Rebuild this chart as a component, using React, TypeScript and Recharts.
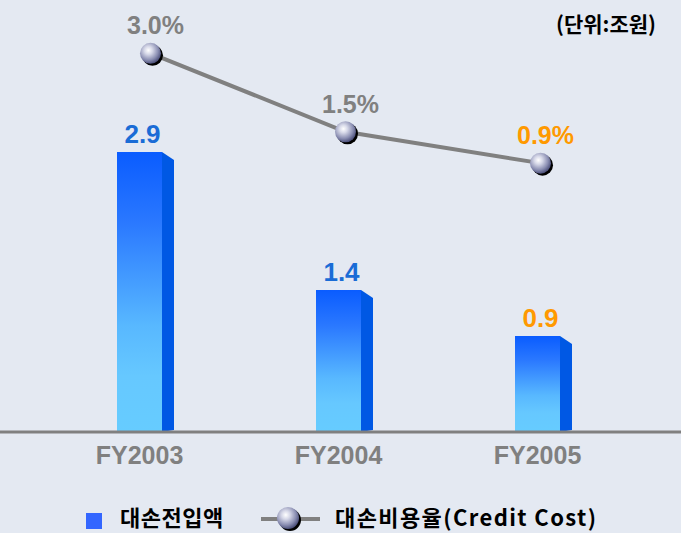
import React from 'react';
import { ComposedChart, Bar, Line, XAxis, YAxis, Legend, LabelList } from 'recharts';

const categories = ['FY2003', 'FY2004', 'FY2005'];
const provisions = [2.9, 1.4, 0.9]; // 대손전입액 (조원)
const creditCost = [3.0, 1.5, 0.9]; // 대손비용율 (%)
const barName = '대손전입액';
const lineName = '대손비용율(Credit Cost)';
const unitLabel = '(단위:조원)';

const data = categories.map((c, i) => ({ name: c, provision: provisions[i], cost: creditCost[i] }));

const LATIN = '"Liberation Sans", Arial, "Noto Sans CJK KR", sans-serif';
const KOR = '"Noto Sans CJK KR", "Liberation Sans", sans-serif';
const BLUE_LABEL = '#1A6CD6';
const ORANGE = '#FF9900';
const GRAY = '#808080';

const BarShape = (props: any) => {
  const { x, y, width, height, background, index } = props;
  const bottom = background && background.height ? background.y + background.height : y + height;
  const side = 12;
  const gid = `barGrad${index}`;
  return (
    <g>
      <defs>
        <linearGradient id={gid} x1="0" y1="0" x2="0" y2="1">
          <stop offset="0%" stopColor="#0A5CFF" />
          <stop offset="25%" stopColor="#2A78FF" />
          <stop offset="62%" stopColor="#58B8FF" />
          <stop offset="80%" stopColor="#66C8FF" />
          <stop offset="100%" stopColor="#66CCFF" />
        </linearGradient>
      </defs>
      <rect x={x} y={y} width={width} height={bottom - y} fill={`url(#${gid})`} />
      <polygon
        points={`${x + width},${y} ${x + width + side},${y + 8} ${x + width + side},${bottom - 2} ${x + width},${bottom}`}
        fill="#0058E4"
      />
    </g>
  );
};

const Sphere = ({ cx, cy, r = 10.5, id }: any) => (
  <g>
    <defs>
      <radialGradient id={id} cx="40%" cy="36%" r="64%">
        <stop offset="0%" stopColor="#FFFFFF" />
        <stop offset="30%" stopColor="#D6D8E8" />
        <stop offset="72%" stopColor="#8A8EB2" />
        <stop offset="100%" stopColor="#4E527C" />
      </radialGradient>
    </defs>
    <circle cx={cx + 2} cy={cy + 2} r={r} fill="#000" />
    <circle cx={cx} cy={cy} r={r} fill={`url(#${id})`} />
  </g>
);

const Dot = (props: any) => {
  const { cx, cy, index } = props;
  if (cx == null || cy == null) return null;
  return <Sphere key={`dot${index}`} cx={cx} cy={cy} id={`sph${index}`} />;
};

const BarLabel = (props: any) => {
  const { x, y, width, value, index } = props;
  const last = index === categories.length - 1;
  return (
    <text
      x={x + width / 2 + 3}
      y={y - 9}
      textAnchor="middle"
      fill={last ? ORANGE : BLUE_LABEL}
      fontSize={26}
      fontWeight="bold"
      fontFamily={LATIN}
    >
      {Number(value).toFixed(1)}
    </text>
  );
};

const LineLabel = (props: any) => {
  const { x, y, value, index } = props;
  const last = index === categories.length - 1;
  return (
    <text
      x={x + 5}
      y={y - 19}
      textAnchor="middle"
      fill={last ? ORANGE : GRAY}
      fontSize={25}
      fontWeight="bold"
      fontFamily={LATIN}
    >
      {Number(value).toFixed(1)}%
    </text>
  );
};

const LegendContent = () => (
  <div style={{ position: 'relative', height: 40, width: 681 }}>
    <div style={{ position: 'absolute', left: 86, top: 20, width: 16, height: 16, background: '#3366FF' }} />
    <span
      style={{
        position: 'absolute', left: 120, top: 11, fontSize: 22, lineHeight: '24px', letterSpacing: 0.5,
        fontWeight: 'bold', fontFamily: KOR, color: '#000', whiteSpace: 'nowrap',
      }}
    >
      {barName}
    </span>
    <svg style={{ position: 'absolute', left: 258, top: 11 }} width={66} height={28}>
      <line x1={3} y1={15} x2={62} y2={15} stroke={GRAY} strokeWidth={4} />
      <Sphere cx={30} cy={14} r={11} id="legSph" />
    </svg>
    <span
      style={{
        position: 'absolute', left: 335, top: 11, fontSize: 22, lineHeight: '24px', letterSpacing: 1.4,
        fontWeight: 'bold', fontFamily: KOR, color: '#000', whiteSpace: 'nowrap',
      }}
    >
      {lineName}
    </span>
  </div>
);

export default function App() {
  return (
    <div style={{ position: 'fixed', left: 0, top: 0, width: 681, height: 533, background: '#E4E9F2', overflow: 'hidden' }}>
      <div
        style={{
          position: 'absolute', left: 556, top: 9, fontSize: 21, fontWeight: 'bold',
          fontFamily: KOR, color: '#000', whiteSpace: 'nowrap', lineHeight: '28px',
        }}
      >
        {unitLabel}
      </div>
      <ComposedChart width={681} height={533} data={data} margin={{ top: 20, right: 0, bottom: 0, left: 0 }}>
        <XAxis
          xAxisId="bx"
          dataKey="name"
          padding={{ left: 40, right: 44 }}
          axisLine={{ stroke: GRAY, strokeWidth: 3 }}
          tickLine={false}
          tickSize={0}
          tickMargin={14}
          height={61}
          tick={{ fill: GRAY, fontSize: 25, fontWeight: 'bold', fontFamily: LATIN }}
        />
        <XAxis xAxisId="lx" dataKey="name" hide padding={{ left: 53, right: 43 }} />
        <YAxis yAxisId="left" hide domain={[-0.1435, 4.335]} allowDataOverflow />
        <YAxis yAxisId="right" hide orientation="right" domain={[-4.241, 3.637]} allowDataOverflow />
        <Bar
          xAxisId="bx"
          yAxisId="left"
          dataKey="provision"
          name={barName}
          barSize={45}
          shape={<BarShape />}
          isAnimationActive={false}
        >
          <LabelList dataKey="provision" content={<BarLabel />} />
        </Bar>
        <Line
          xAxisId="lx"
          yAxisId="right"
          dataKey="cost"
          name={lineName}
          stroke={GRAY}
          strokeWidth={4}
          dot={<Dot />}
          activeDot={false}
          isAnimationActive={false}
        >
          <LabelList dataKey="cost" content={<LineLabel />} />
        </Line>
        <Legend verticalAlign="bottom" content={<LegendContent />} />
      </ComposedChart>
    </div>
  );
}
